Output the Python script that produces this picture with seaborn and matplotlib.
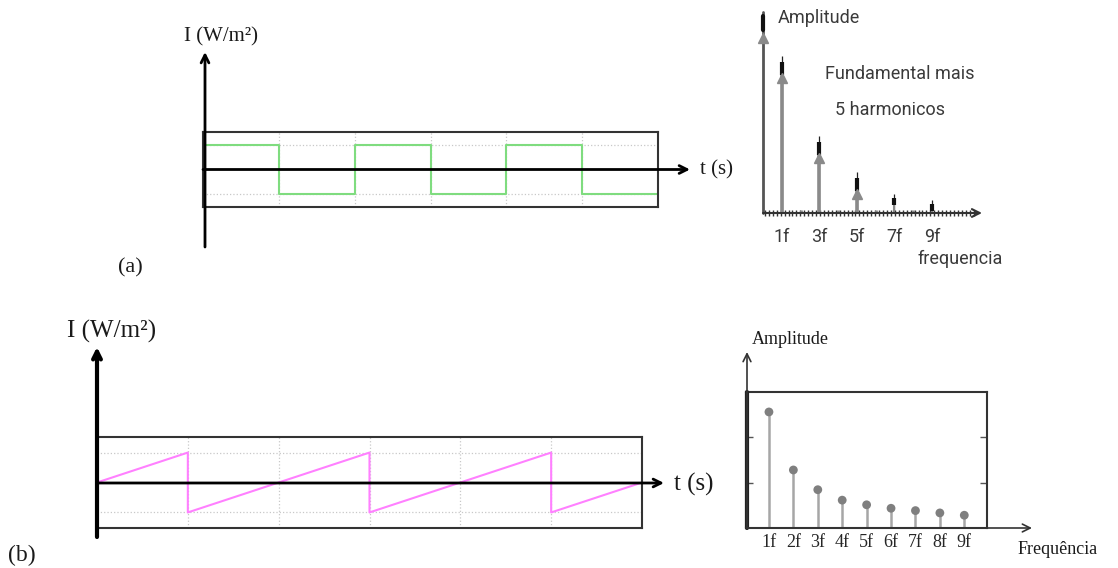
import matplotlib
matplotlib.use('Agg')
import matplotlib.pyplot as plt
import seaborn as sns
import numpy as np

sns.set_style('white')
plt.rcParams['font.family'] = ['Liberation Serif', 'DejaVu Serif']

# ---Data---
# (a) square wave, one value per half period (steps-post)
sq_t = [0, 0.5, 1.0, 1.5, 2.0, 2.5, 3.0]
sq_I = [1, -1, 1, -1, 1, -1, -1]
# (a) spectrum: odd harmonics + tiny even bumps
harm_a = [1, 3, 5, 7, 9]
amp_a = [1.0, 0.49, 0.26, 0.12, 0.085]
harm_a_even = [2, 4, 6, 8]
amp_a_even = [0.02, 0.02, 0.02, 0.02]
labels_a = ['1f', '3f', '5f', '7f', '9f']
# (b) sawtooth
saw_t = [0, 0.5, 0.5, 1.5, 1.5, 2.5, 2.5, 3.0]
saw_I = [0, 1, -1, 1, -1, 1, -1, 0]
# (b) spectrum
harm_b = [1, 2, 3, 4, 5, 6, 7, 8, 9]
amp_b = [1.0, 0.50, 0.33, 0.24, 0.20, 0.17, 0.15, 0.13, 0.11]
labels_b = ['1f', '2f', '3f', '4f', '5f', '6f', '7f', '8f', '9f']

W, H = 1118, 568
fig = plt.figure(figsize=(W / 100, H / 100), dpi=100)


def box(x0, y0, x1, y1):
    return [x0 / W, 1 - y1 / H, (x1 - x0) / W, (y1 - y0) / H]


def time_panel(rect, t, I, color, ylim, **kw):
    ax = fig.add_axes(box(*rect))
    sns.lineplot(x=t, y=I, color=color, lw=1.5, ax=ax, **kw)
    ax.set_xlim(0, 3)
    ax.set_ylim(-ylim, ylim)
    ax.set_xticks(np.arange(0.5, 3, 0.5))
    ax.set_yticks([-1, 1])
    ax.tick_params(length=0, labelbottom=False, labelleft=False)
    ax.grid(True, ls=':', color='#c8c8c8', lw=0.9)
    for s in ax.spines.values():
        s.set_color('#333333')
        s.set_linewidth(1.5)
    return ax


# ---(a) time domain---
time_panel((203, 132, 658, 207), sq_t, sq_I, '#7fdc7f', 1.53, drawstyle='steps-post')

# ---(b) time domain---
time_panel((97, 437, 642, 528), saw_t, saw_I, '#ff80ff', 1.52, estimator=None, sort=False)

# ---(a) spectrum---
sans = ['Roboto', 'DejaVu Sans']
axs = fig.add_axes(box(763, 12, 975, 213))
py = 1 / 157
axs.vlines(harm_a_even, 0, amp_a_even, color='#8a8a8a', lw=2)
for n, a in zip(harm_a, amp_a):
    axs.vlines(n, 0, a, color='#222222', lw=0.9)
    if a > 0.2:
        axs.vlines(n, 0, a - 18 * py, color='#8a8a8a', lw=2.6)
        axs.vlines(n, a - 19 * py, a - 6 * py, color='#111111', lw=3)
        axs.plot(n, a - 22 * py, marker='^', color='#8a8a8a', ms=7)
    else:
        axs.vlines(n, 0, a - 8 * py, color='#8a8a8a', lw=1.5)
        axs.vlines(n, a - 11 * py, a - 4 * py, color='#111111', lw=3)
axs.set_xlim(0, 11.3)
axs.set_ylim(0, 1.28)
axs.set_xticks(harm_a)
axs.set_xticklabels(labels_a, family=sans, fontsize=13, color='#3a3a3a')
axs.set_xticks(np.arange(0.1, 11.3, 0.21), minor=True)
axs.tick_params(which='major', length=0, pad=11, bottom=True)
axs.tick_params(which='minor', length=4, width=1, direction='inout', color='#333333', bottom=True)
axs.set_yticks([])
for s in axs.spines.values():
    s.set_visible(False)
axs.patch.set_alpha(0)

# ---(b) spectrum---
axb = fig.add_axes(box(746, 392, 987, 528))
axb.vlines(harm_b, 0, amp_b, color='#a6a6a6', lw=1.8)
sns.scatterplot(x=harm_b, y=amp_b, color='#7f7f7f', s=40, edgecolor='none', ax=axb, zorder=3)
axb.set_xlim(0.06, 9.93)
axb.set_ylim(0, 1.172)
axb.set_xticks(harm_b)
axb.set_xticklabels(labels_b, fontsize=13)
axb.set_xticks([2, 4, 6, 8], minor=True)
axb.set_yticks([0.39, 0.78])
axb.tick_params(which='major', axis='x', length=0, pad=4)
axb.tick_params(which='minor', axis='x', length=5, width=1.5, direction='in', top=True, bottom=True, color='#333333')
axb.tick_params(axis='y', length=5, width=1, direction='in', left=True, right=True,
                labelleft=False, color='#555555')
for s in axb.spines.values():
    s.set_color('#333333')
    s.set_linewidth(1.5)

# ---overlay in pixel coordinates: axis arrows and labels---
ov = fig.add_axes([0, 0, 1, 1])
ov.set_xlim(0, W)
ov.set_ylim(H, 0)
ov.axis('off')
ov.patch.set_alpha(0)


def arrow(x0, y0, x1, y1, lw=2, color='black', style='->'):
    ov.annotate('', xy=(x1, y1), xytext=(x0, y0),
                arrowprops=dict(arrowstyle=style, lw=lw, color=color,
                                shrinkA=0, shrinkB=0, mutation_scale=14))


# (a) time axes
arrow(205, 247, 205, 52)
arrow(203, 169.5, 690, 169.5)
ov.text(184, 37, 'I (W/m²)', fontsize=15, va='center', color='#1a1a1a')
ov.text(700, 170, 't (s)', fontsize=15, va='center', color='#1a1a1a')
ov.text(118, 268, '(a)', fontsize=16, va='center', color='#1a1a1a')

# (b) time axes
arrow(97, 537, 97, 347, lw=3)
arrow(97, 483, 664, 483)
ov.text(67, 331, 'I (W/m²)', fontsize=18, va='center', color='#1a1a1a')
ov.text(674, 484, 't (s)', fontsize=18, va='center', color='#1a1a1a')
ov.text(8, 555, '(b)', fontsize=17, va='center', color='#1a1a1a')

# (a) spectrum axes
ov.plot([763, 763], [213, 12], color='#555555', lw=2)
ov.plot([763, 763], [16, 30], color='#111111', lw=3)
ov.plot(763, 38, marker='^', color='#8a8a8a', ms=7)
arrow(763, 213, 982, 213, lw=1.5, color='#333333')
cond = dict(family=sans, color='#3a3a3a')
ov.text(778, 18, 'Amplitude', fontsize=13, va='center', **cond)
ov.text(900, 74, 'Fundamental mais', fontsize=13, va='center', ha='center', **cond)
ov.text(890, 110, '5 harmonicos', fontsize=13, va='center', ha='center', **cond)
ov.text(918, 259, 'frequencia', fontsize=13, va='center', **cond)

# (b) spectrum axes
arrow(747, 528, 747, 352, lw=1.2, color='#333333')
arrow(746, 528, 1032, 528, lw=1.2, color='#333333')
ov.plot([747, 747], [392, 528], color='#222222', lw=3)
ov.text(752, 340, 'Amplitude', fontsize=13, va='center', color='#1a1a1a')
ov.text(1018, 549, 'Frequência', fontsize=13, va='center', color='#1a1a1a')

fig.savefig('out.png', dpi=100)
